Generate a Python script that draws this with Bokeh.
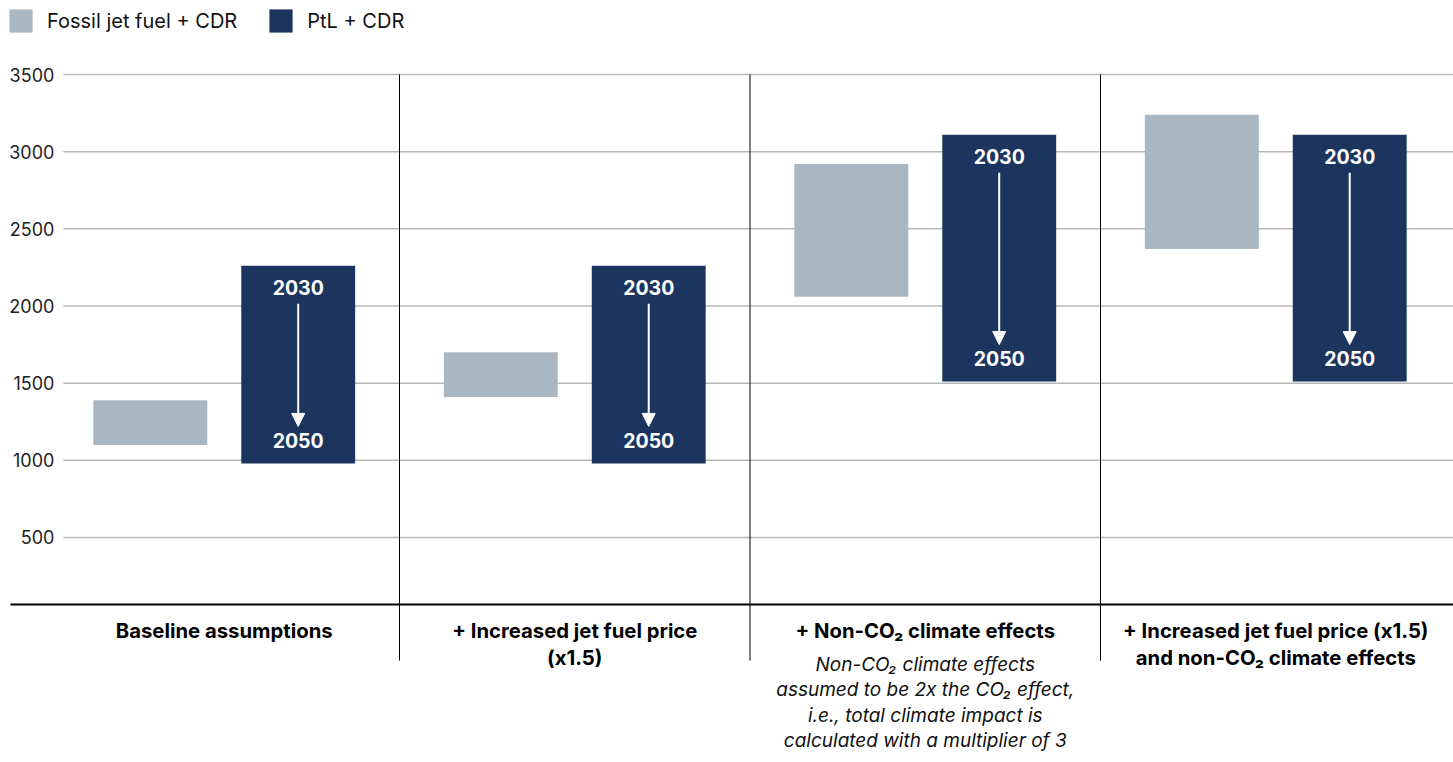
from bokeh.plotting import figure
from bokeh.models import ColumnDataSource, Legend, LegendItem, Arrow, NormalHead, Range1d
from bokeh.core.properties import value
from bokeh.embed import file_html
from bokeh.resources import INLINE

# ---------------- data ----------------
categories = [
    "Baseline assumptions",
    "+ Increased jet fuel price\n(x1.5)",
    "+ Non-CO\u2082 climate effects",
    "+ Increased jet fuel price (x1.5)\nand non-CO\u2082 climate effects",
]
notes = [
    "",
    "",
    "Non-CO\u2082 climate effects\nassumed to be 2x the CO\u2082 effect,\ni.e., total climate impact is\ncalculated with a multiplier of 3",
    "",
]
fossil_low = [1100, 1410, 2060, 2370]
fossil_high = [1390, 1700, 2920, 3240]
ptl_2030 = [2260, 2260, 3110, 3110]
ptl_2050 = [980, 980, 1510, 1510]
year_start = "2030"
year_end = "2050"
y_ticks = [500, 1000, 1500, 2000, 2500, 3000, 3500]
series_names = ["Fossil jet fuel + CDR", "PtL + CDR"]

# ---------------- style ----------------
FONT = "Inter"
C_FOSSIL = "#a8b7c1"
C_PTL = "#1c355e"
PX_PER_UNIT = 463 / 3000.0
BASE = 66          # value where the black baseline sits
OFF = 0.211        # dodge of bars from group centre
BW = 0.325         # bar width (group = 1 unit)

n = len(categories)
centers = [i + 0.5 for i in range(n)]

p = figure(width=1453, height=762, output_backend="svg", toolbar_location=None,
           x_range=Range1d(-0.1384, 4.0071), y_range=Range1d(-958, 3979.5),
           min_border=0, min_border_left=0, min_border_right=0,
           min_border_top=0, min_border_bottom=0)
p.axis.visible = False
p.grid.visible = False
p.outline_line_color = None
p.background_fill_color = "white"
p.border_fill_color = "white"

# gridlines
grid_x0 = 0.041
p.segment(x0=[grid_x0] * len(y_ticks), x1=[4.2] * len(y_ticks), y0=y_ticks, y1=y_ticks,
          line_color="#b8b8b8", line_width=1.5)
# tick labels
p.text(x=[grid_x0] * len(y_ticks), y=y_ticks, text=[str(t) for t in y_ticks],
       x_offset=-9, text_align="right", text_baseline="middle",
       text_font=value(FONT), text_font_size="18px", text_color="#222222")

# dividers
div_x = [float(i) for i in range(1, n)]
p.segment(x0=div_x, x1=div_x, y0=[y_ticks[-1]] * len(div_x), y1=[-297] * len(div_x),
          line_color="black", line_width=1)

# baseline
p.segment(x0=[-0.11], x1=[4.2], y0=[BASE], y1=[BASE], line_color="black", line_width=2)

# bars
src = ColumnDataSource(dict(
    xf=[c - OFF for c in centers], xp=[c + OFF for c in centers],
    flo=fossil_low, fhi=fossil_high, p30=ptl_2030, p50=ptl_2050,
))
r_f = p.vbar(x="xf", width=BW, bottom="flo", top="fhi", source=src,
             fill_color=C_FOSSIL, line_color=None)
r_p = p.vbar(x="xp", width=BW, bottom="p50", top="p30", source=src,
             fill_color=C_PTL, line_color=None)

# year labels in PtL bars
p.text(x="xp", y="p30", text=value(year_start), source=src, y_offset=22,
       text_align="center", text_baseline="middle", text_font=value(FONT),
       text_font_size="19.5px", text_font_style="bold", text_color="white")
p.text(x="xp", y="p50", text=value(year_end), source=src, y_offset=-23,
       text_align="center", text_baseline="middle", text_font=value(FONT),
       text_font_size="19.5px", text_font_style="bold", text_color="white")

# arrows
arrow_gap_top = 38 / PX_PER_UNIT
arrow_gap_bot = 37 / PX_PER_UNIT
for xc, t, b in zip(src.data["xp"], ptl_2030, ptl_2050):
    p.add_layout(Arrow(end=NormalHead(size=13, fill_color="white", line_color="white"),
                       x_start=xc, y_start=t - arrow_gap_top,
                       x_end=xc, y_end=b + arrow_gap_bot,
                       line_color="white", line_width=2))

# category labels (one text per line)
def lines_of(labels, first, step):
    xs, ys, ts, offs = [], [], [], []
    for c, lab in zip(centers, labels):
        if not lab:
            continue
        for j, line in enumerate(lab.split("\n")):
            xs.append(c); ys.append(BASE); ts.append(line); offs.append(first + j * step)
    return dict(x=xs, y=ys, text=ts, off=offs)

cat_src = ColumnDataSource(lines_of(categories, 26, 27))
p.text(x="x", y="y", text="text", y_offset="off", source=cat_src,
       text_align="center", text_baseline="middle", text_font=value(FONT),
       text_font_size="20.3px", text_font_style="bold", text_color="black")
note_src = ColumnDataSource(lines_of(notes, 60, 25.4))
p.text(x="x", y="y", text="text", y_offset="off", source=note_src,
       text_align="center", text_baseline="middle", text_font=value(FONT),
       text_font_size="19px", text_font_style="italic", text_color="#111111")

# legend
legend = Legend(items=[LegendItem(label=series_names[0], renderers=[r_f]),
                       LegendItem(label=series_names[1], renderers=[r_p])],
                orientation="horizontal", location="top_left",
                glyph_width=29, glyph_height=29, label_standoff=12, spacing=29,
                padding=8, margin=6, border_line_color=None,
                background_fill_alpha=0,
                label_text_font=FONT, label_text_font_size="20px",
                label_text_color="#111111")
p.add_layout(legend)

open("out.html", "w").write(file_html(p, INLINE))
